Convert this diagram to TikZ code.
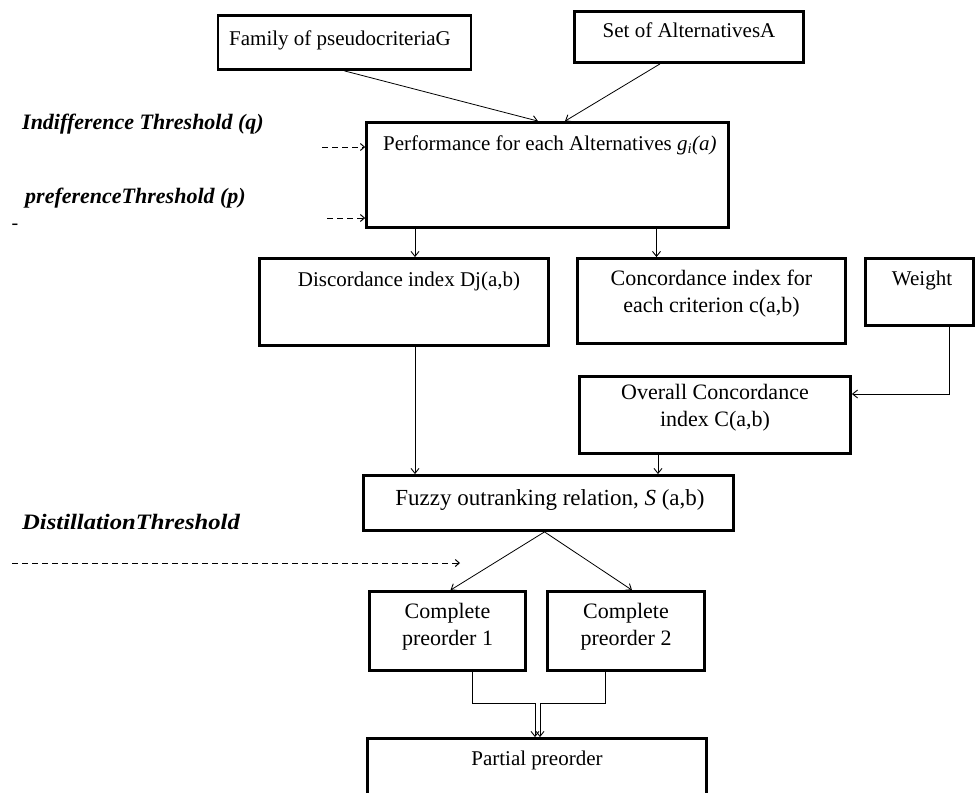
\documentclass[tikz,border=0pt]{standalone}
\usepackage{graphicx}
\usepackage{fontspec}
\setmainfont{Liberation Serif}
\usetikzlibrary{arrows.meta}

\tikzset{
  box/.style={draw, line width=2.8pt, inner sep=0pt},
  txt/.style={inner sep=0pt, align=center, font=\fontsize{21}{27}\selectfont},
  bigtxt/.style={txt, font=\fontsize{22}{27}\selectfont},
  lbl/.style={inner sep=0pt, anchor=west, font=\fontsize{22}{26}\selectfont\bfseries\itshape},
  arr/.style={draw, line width=0.8pt, -{Straight Barb[length=5pt,width=8pt,line width=0.9pt]}},
  darr/.style={draw, line width=0.9pt, dash pattern=on 6pt off 4pt,
    -{Straight Barb[length=4pt,width=7pt,line width=1pt]}}
}

\begin{document}
\begin{tikzpicture}[x=1pt, y=-1pt]
\useasboundingbox (0,0) rectangle (976,792);
\clip (0,0) rectangle (976,792);

% boxes
\node[box, minimum width=253pt, minimum height=54pt] (fam) at (344.5,42.5) {};
\node[box, minimum width=229pt, minimum height=51pt] (set) at (689,37) {};
\node[box, minimum width=362pt, minimum height=105pt] (perf) at (547.5,175) {};
\node[box, minimum width=289pt, minimum height=87pt] (disc) at (404,302) {};
\node[box, minimum width=268pt, minimum height=85pt] (conc) at (711.5,301) {};
\node[box, minimum width=108pt, minimum height=67pt] (wt) at (919.5,292) {};
\node[box, minimum width=271pt, minimum height=77pt] (ov) at (715,415) {};
\node[box, minimum width=370pt, minimum height=55pt] (fz) at (548.5,503) {};
\node[box, minimum width=156pt, minimum height=79pt] (c1) at (447.5,631) {};
\node[box, minimum width=157pt, minimum height=79pt] (c2) at (626,631) {};
\node[box, minimum width=339pt, minimum height=90pt] (pp) at (537,783.5) {};

% box texts
\node[txt] (famt) at (340,40) {Family of pseudocriteriaG};
\node[txt] (sett) at (689,30) {Set of AlternativesA};
\node[txt, anchor=west] (perft) at (383,145) {Performance for each Alternatives \textit{g}\textsubscript{\textit{i}}\textit{(a)}};
\node[txt] (disct) at (409,281) {Discordance index Dj(a,b)};
\node[bigtxt] (conct) at (711.5,294) {Concordance index for\\ each criterion c(a,b)};
\node[txt] (wtt) at (922,280) {Weight};
\node[bigtxt] (ovt) at (715,408) {Overall Concordance\\ index C(a,b)};
\node[txt, font=\fontsize{23}{27}\selectfont] (fzt) at (550,500) {Fuzzy outranking relation, \textit{S} (a,b)};
\node[bigtxt] (c1t) at (447.5,627) {Complete\\ preorder 1};
\node[bigtxt] (c2t) at (626,627) {Complete\\ preorder 2};
\node[txt] (ppt) at (537,760) {Partial preorder};

% threshold labels
\node[lbl] (qlbl) at (22,124) {Indifference Threshold (q)};
\node[lbl] (plbl) at (25,198) {preferenceThreshold (p)};
\node[lbl] (dlbl) at (22,522) {\scalebox{1.12}[1]{DistillationThreshold}};
\node[inner sep=0pt, font=\fontsize{20}{24}\selectfont] (mark) at (15,227) {-};

% threshold inputs
\coordinate (qs) at (322,147);
\coordinate (ps) at (327,218);
\coordinate (ds) at (12,563);
\coordinate (de) at (460,563);
\draw[darr] (qs) -- (qs -| perf.west);
\draw[darr] (ps) -- (ps -| perf.west);
\draw[darr] (ds) -- (de);

% flow
\draw[arr] (fam.south) -- ([xshift=-9.5pt]perf.north);
\draw[arr] ([xshift=-29pt]set.south) -- ([xshift=17.5pt]perf.north);
\draw[arr] ([xshift=11pt]disc.north |- perf.south) -- ([xshift=11pt]disc.north);
\draw[arr] ([xshift=-55pt]conc.north |- perf.south) -- ([xshift=-55pt]conc.north);
\draw[arr] ([xshift=11pt]disc.south) -- ([xshift=11pt]disc.south |- fz.north);
\draw[arr] ([xshift=30pt]wt.south) |- ([yshift=21pt]ov.east);
\draw[arr] ([xshift=-57pt]ov.south) -- ([xshift=-57pt]ov.south |- fz.north);
\draw[arr] ([xshift=-4pt]fz.south) -- ([xshift=3pt]c1.north);
\draw[arr] ([xshift=-4pt]fz.south) -- ([xshift=6pt]c2.north);
\draw[arr] ([xshift=25pt]c1.south) -- ++(0,31) -| ([xshift=-2pt]pp.north);
\draw[arr] ([xshift=-21pt]c2.south) -- ++(0,31) -| ([xshift=3pt]pp.north);
\end{tikzpicture}
\end{document}
